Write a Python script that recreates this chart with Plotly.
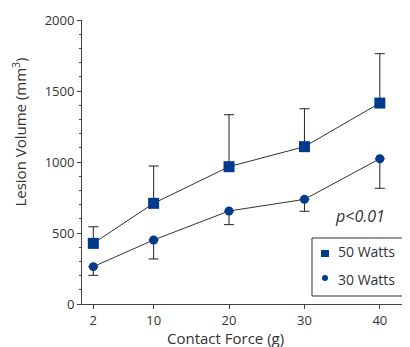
import plotly.graph_objects as go

force = [2, 10, 20, 30, 40]
w50 = [427, 709, 967, 1108, 1415]
w50_err_up = [117, 263, 366, 267, 348]
w30 = [263, 451, 655, 737, 1023]
w30_err_down = [61, 134, 96, 84, 208]
series_names = ["50 Watts", "30 Watts"]
y_ticks = [0, 500, 1000, 1500, 2000]

marker_color = "#003a8c"
text_color = "#333333"
font_family = "Open Sans, DejaVu Sans, sans-serif"

fig = go.Figure()

fig.add_trace(go.Scatter(
    x=force, y=w50, mode="lines+markers", name=series_names[0], showlegend=False,
    line=dict(color="#333333", width=1),
    marker=dict(symbol="square", size=11, color=marker_color),
    error_y=dict(type="data", symmetric=False, array=w50_err_up,
                 arrayminus=[0] * len(w50), color="#222222", thickness=1, width=5),
))
fig.add_trace(go.Scatter(
    x=force, y=w30, mode="lines+markers", name=series_names[1], showlegend=False,
    line=dict(color="#333333", width=1),
    marker=dict(symbol="circle", size=9, color=marker_color),
    error_y=dict(type="data", symmetric=False, array=[0] * len(w30),
                 arrayminus=w30_err_down, color="#222222", thickness=1, width=5),
))

# Manual legend (box, symbols, labels) in paper coordinates
shapes = [
    dict(type="rect", xref="paper", yref="paper", x0=0.7012, x1=0.9970, y0=0.0282, y1=0.2324,
         line=dict(color="#333333", width=1), fillcolor="white", layer="above"),
    dict(type="rect", xref="paper", yref="paper", x0=0.7287, x1=0.7530, y0=0.1655, y1=0.1901,
         line=dict(width=0), fillcolor=marker_color, layer="above"),
    dict(type="circle", xref="paper", yref="paper", x0=0.7317, x1=0.7500, y0=0.0810, y1=0.1021,
         line=dict(width=0), fillcolor=marker_color, layer="above"),
]
annotations = [
    dict(x=0.7744, y=0.1831, xref="paper", yref="paper", text=series_names[0],
         xanchor="left", yanchor="middle", showarrow=False, font=dict(size=14)),
    dict(x=0.7744, y=0.0880, xref="paper", yref="paper", text=series_names[1],
         xanchor="left", yanchor="middle", showarrow=False, font=dict(size=14)),
    dict(x=0.8476, y=0.3099, xref="paper", yref="paper", text="<i>p<0.01</i>",
         xanchor="center", yanchor="middle", showarrow=False, font=dict(size=16)),
    dict(x=0.439, y=-0.118, xref="paper", yref="paper", text="Contact Force (g)",
         xanchor="center", yanchor="middle", showarrow=False, font=dict(size=15)),
    dict(x=-0.190, y=0.606, xref="paper", yref="paper", text="Lesion Volume (mm<sup>3</sup>)",
         textangle=-90, xanchor="center", yanchor="middle", showarrow=False, font=dict(size=15)),
]

fig.update_layout(
    width=402, height=339,
    margin=dict(l=74, r=0, t=12, b=43),
    paper_bgcolor="white", plot_bgcolor="white",
    font=dict(family=font_family, color=text_color, size=13),
    showlegend=False,
    shapes=shapes,
    annotations=annotations,
)
fig.update_xaxes(
    range=[0.5, 44], tickvals=force, ticktext=[str(v) for v in force],
    showline=True, linecolor="#444444", linewidth=1, showgrid=False, zeroline=False,
    ticks="outside", ticklen=4, tickcolor="#444444",
    tickfont=dict(size=13), automargin=False,
)
fig.update_yaxes(
    range=[0, 2000], tickvals=y_ticks,
    showline=True, linecolor="#444444", linewidth=1, showgrid=False, zeroline=False,
    ticks="outside", ticklen=4, tickcolor="#444444",
    minor=dict(dtick=100, ticks="outside", ticklen=2, tickcolor="#444444"),
    tickfont=dict(size=13), automargin=False,
)

fig.write_html("out.html")
